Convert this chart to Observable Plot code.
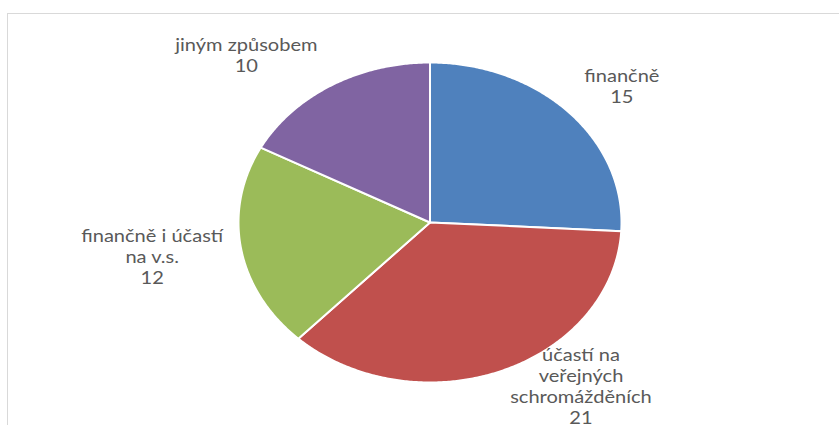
<!DOCTYPE html>
<html><head><meta charset="utf-8">
<script src="https://cdn.jsdelivr.net/npm/d3@7"></script>
<script src="https://cdn.jsdelivr.net/npm/@observablehq/plot@0.6"></script>
<style>
body{margin:0;background:#fff;}
#wrap{position:relative;width:839px;height:425px;overflow:hidden;}
#border{position:absolute;left:7px;top:13px;width:1000px;height:1000px;border:1.5px solid #d9d9d9;}
#chart{position:absolute;left:0;top:0;}
</style></head><body>
<div id="wrap"><div id="border"></div><div id="chart"></div></div>
<script>
const categories = ["finančně","účastí na veřejných shromážděních","finančně i účastí na v.s.","jiným způsobem"];
const labelLines = ["finančně","účastí na\nveřejných\nschromážděních","finančně i účastí\nna v.s.","jiným způsobem"];
const values = [15,21,12,10];
const colors = ["#4F81BD","#C0504D","#9BBB59","#8064A2"];

// layout (label distance factors along each slice's mid-angle, horizontal / vertical)
const labelPlacement = [[1.38,1.245],[2.13,1.097],[1.47,1.31],[1.86,1.22]];

const pie = d3.pie().sort(null).value(d=>d)(values);
const slicePts = [];
pie.forEach((a,i)=>{
  slicePts.push({c:categories[i],x:0,y:0});
  const n = Math.max(2, Math.ceil((a.endAngle-a.startAngle)/(Math.PI/360)));
  for(let j=0;j<=n;j++){
    const t=a.startAngle+(a.endAngle-a.startAngle)*j/n;
    slicePts.push({c:categories[i],x:Math.sin(t),y:Math.cos(t)});
  }
});
const labels = pie.map((a,i)=>{
  const m=(a.startAngle+a.endAngle)/2;
  return {text:labelLines[i]+"\n"+values[i], x:Math.sin(m)*labelPlacement[i][0], y:Math.cos(m)*labelPlacement[i][1]};
});

const chart = Plot.plot({
  width:839, height:425,
  marginLeft:238, marginRight:218, marginTop:62, marginBottom:43,
  x:{domain:[-1,1],axis:null},
  y:{domain:[-1,1],axis:null},
  color:{domain:categories, range:colors},
  style:{background:"transparent", fontFamily:"Lato, 'Open Sans', sans-serif", overflow:"visible"},
  marks:[
    Plot.line(slicePts,{x:"x",y:"y",z:"c",fill:"c",stroke:"white",strokeWidth:2,strokeLinejoin:"round",curve:"linear-closed"}),
    Plot.text(labels,{x:"x",y:"y",text:"text",fontSize:17,fill:"#595959",lineHeight:1.235,textAnchor:"middle"})
  ]
});
chart.querySelectorAll('g[aria-label="text"] text').forEach(t=>{
  const tr = t.getAttribute("transform")||"";
  t.setAttribute("transform", tr+" scale(1.18,1)");
});
document.getElementById("chart").appendChild(chart);
</script>
</body></html>
